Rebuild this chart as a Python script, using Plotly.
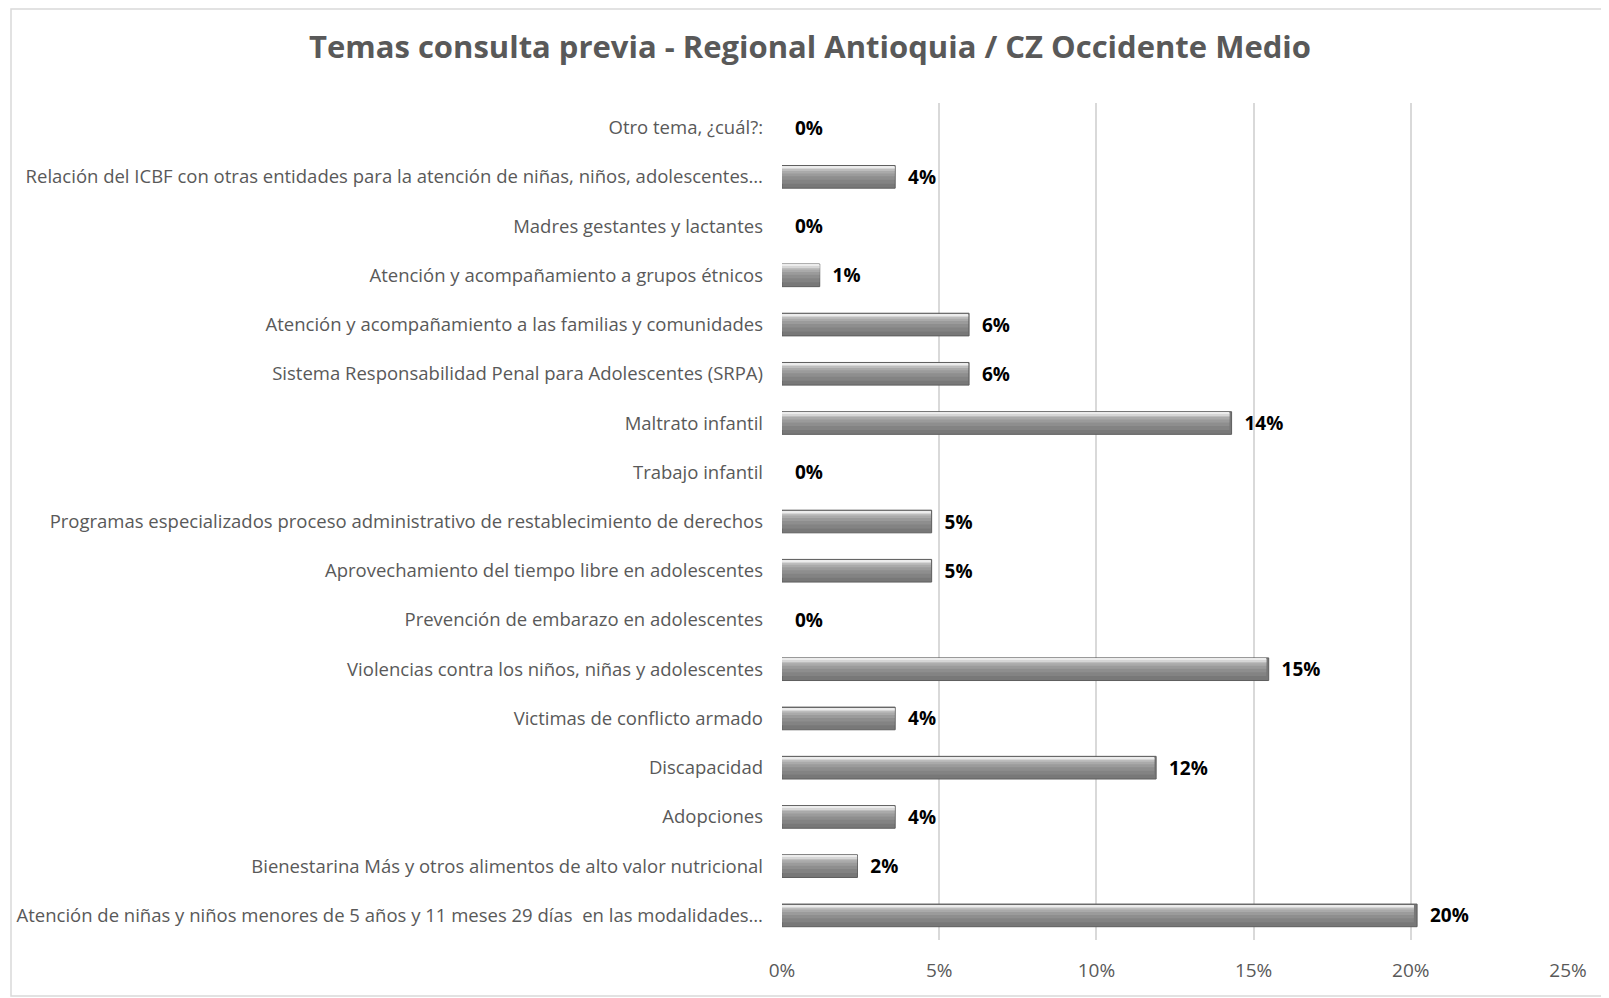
import plotly.graph_objects as go

categories = [
    "Atención de niñas y niños menores de 5 años y 11 meses 29 días  en las modalidades…",
    "Bienestarina Más y otros alimentos de alto valor nutricional",
    "Adopciones",
    "Discapacidad",
    "Victimas de conflicto armado",
    "Violencias contra los niños, niñas y adolescentes",
    "Prevención de embarazo en adolescentes",
    "Aprovechamiento del tiempo libre en adolescentes",
    "Programas especializados proceso administrativo de restablecimiento de derechos",
    "Trabajo infantil",
    "Maltrato infantil",
    "Sistema Responsabilidad Penal para Adolescentes (SRPA)",
    "Atención y acompañamiento a las familias y comunidades",
    "Atención y acompañamiento a grupos étnicos",
    "Madres gestantes y lactantes",
    "Relación del ICBF con otras entidades para la atención de niñas, niños, adolescentes…",
    "Otro tema, ¿cuál?:",
]
values = [0.202, 0.024, 0.036, 0.119, 0.036, 0.1548, 0.0, 0.0476, 0.0476, 0.0,
          0.143, 0.0595, 0.0595, 0.012, 0.0, 0.036, 0.0]
tick_vals = [0, 0.05, 0.10, 0.15, 0.20, 0.25]
tick_text = ["0%", "5%", "10%", "15%", "20%", "25%"]
title = "Temas consulta previa - Regional Antioquia / CZ Occidente Medio"

FONT = "Open Sans"
W, H = 1601, 990
L, R, T, B = 774, 41, 95, 58
pw, ph = W - L - R, H - T - B

# shading layers (offset, width, colour) to mimic the cylinder gradient
layers = [
    (-0.14, 0.34, "#838383"),
    (-0.06, 0.26, "#8e8e8e"),
    (0.01, 0.19, "#9b9b9b"),
    (0.07, 0.13, "#aaaaaa"),
    (0.12, 0.08, "#bdbdbd"),
    (0.16, 0.04, "#d6d6d6"),
    (0.19, 0.02, "#ececec"),
]

fig = go.Figure()
fig.add_trace(go.Bar(
    y=categories, x=values, orientation="h",
    width=0.46,
    marker=dict(color="#787878",
                line=dict(color="#5e5e5e", width=[1 if v > 0 else 0 for v in values])),
    text=["\u00a0\u00a0" + f"{v*100:.0f}%" for v in values],
    textposition="outside",
    constraintext="none",
    textfont=dict(family=FONT, size=19, color="#000000", weight="bold"),
    cliponaxis=False,
    hoverinfo="skip",
))
for off, wd, col in layers:
    fig.add_trace(go.Bar(
        y=categories, x=[v * 0.995 for v in values], orientation="h",
        width=wd, offset=off,
        marker=dict(color=col, line=dict(width=0)),
        hoverinfo="skip",
    ))

fig.update_layout(
    width=W, height=H,
    barmode="overlay",
    showlegend=False,
    plot_bgcolor="white",
    paper_bgcolor="white",
    margin=dict(l=L, r=R, t=T, b=B),
    title=dict(text=title, x=(810 - 8) / W, xanchor="center", y=1 - (47 - 8) / H, yanchor="middle",
               font=dict(family=FONT, size=31, color="#595959", weight="bold")),
    xaxis=dict(range=[0, 0.25], tickvals=tick_vals, ticktext=tick_text,
               showgrid=True, gridcolor="#d9d9d9", gridwidth=1.5,
               zeroline=False, showline=False, ticks="",
               tickfont=dict(family=FONT, size=19, color="#595959"),
               ticklabelstandoff=17, fixedrange=True),
    yaxis=dict(type="category", categoryorder="array", categoryarray=categories,
               range=[-0.5, len(categories) - 0.5],
               showgrid=False, zeroline=False, showline=False, ticks="",
               tickfont=dict(family=FONT, size=18.5, color="#595959"),
               ticklabelstandoff=18, automargin=False),
    shapes=[dict(type="rect", xref="paper", yref="paper",
                 x0=(11 - 8 - L) / pw, x1=(W - 1 - L) / pw,
                 y0=(B - 2) / ph * -1 + 0, y1=(ph + T - 1) / ph,
                 line=dict(color="#d9d9d9", width=1.5), fillcolor="rgba(0,0,0,0)")],
)

fig.write_html("out.html")
